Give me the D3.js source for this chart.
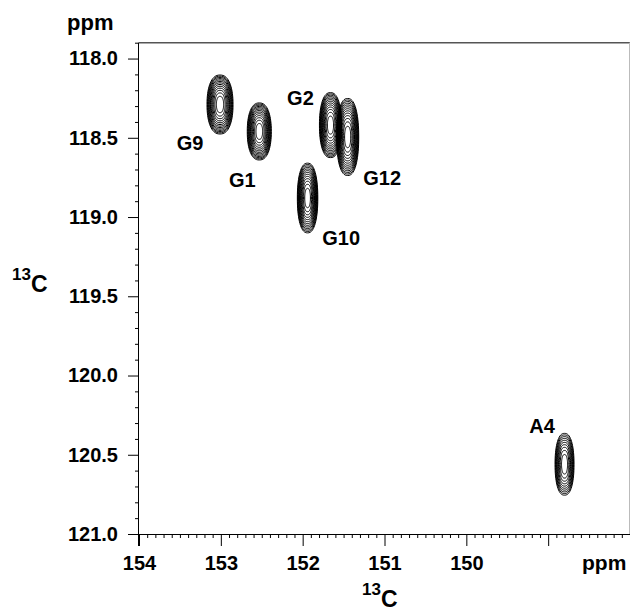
<!DOCTYPE html>
<html>
<head>
<meta charset="utf-8">
<script src="https://cdn.jsdelivr.net/npm/d3@7"></script>
<style>
  html, body { margin: 0; padding: 0; background: #fff; }
  svg { display: block; }
  text { font-family: "Liberation Sans", Arial, Helvetica, sans-serif; font-weight: bold; fill: #000; }
</style>
</head>
<body>
<svg id="chart" width="630" height="611"></svg>
<script>
// ---- data ----
const xMajorTicks = [154, 153, 152, 151, 150, 149];
const xTickLabels = ["154", "153", "152", "151", "150", ""];
const yMajorTicks = [118.0, 118.5, 119.0, 119.5, 120.0, 120.5, 121.0];
const yTickLabels = ["118.0", "118.5", "119.0", "119.5", "120.0", "120.5", "121.0"];

const peakNames  = ["G9", "G1", "G2", "G12", "G10", "A4"];
const peakX      = [153.01, 152.53, 151.66, 151.45, 151.94, 148.80];    // ppm (13C, horizontal)
const peakY      = [118.29, 118.46, 118.42, 118.495, 118.88, 120.56];   // ppm (13C, vertical)
const peakHalfX  = [0.159, 0.147, 0.135, 0.135, 0.125, 0.116];          // ppm half-width of outer contour
const peakHalfY  = [0.186, 0.180, 0.205, 0.243, 0.220, 0.195];          // ppm half-height of outer contour
const peakLevels = [13, 13, 13, 13, 13, 10];                            // number of contour levels
const labelX     = [153.54, 152.90, 152.19, 151.26, 151.76, 149.23];    // label anchor (ppm)
const labelY     = [118.577, 118.81, 118.293, 118.80, 119.177, 120.36];

// ---- layout ----
const svg = d3.select("#chart");
const x = d3.scaleLinear().domain([154, 148]).range([139, 630]);
const y = d3.scaleLinear().domain([117.9, 121.0]).range([42.7, 534]);

// frame (top / right, gray)
svg.append("line").attr("x1", x(154)).attr("x2", 630).attr("y1", y(117.9)).attr("y2", y(117.9))
  .attr("stroke", "#555").attr("stroke-width", 1.5);
svg.append("line").attr("x1", 629.5).attr("x2", 629.5).attr("y1", y(117.9)).attr("y2", y(121.0))
  .attr("stroke", "#bbb").attr("stroke-width", 1);

// minor ticks
const xMinor = d3.range(1540, 1480, -1).map(d => d / 10).filter(v => !xMajorTicks.includes(v));
const yMinor = d3.range(1179, 1211, 1).map(d => d / 10).filter(v => !yMajorTicks.some(t => Math.abs(t - v) < 1e-9));

const gx = svg.append("g").attr("transform", `translate(0,${y(121.0)})`);
gx.call(d3.axisBottom(x).tickValues(xMinor).tickSize(4).tickFormat("").tickSizeOuter(0));
gx.call(g => g.select(".domain").remove());
const gx2 = svg.append("g").attr("transform", `translate(0,${y(121.0)})`);
gx2.call(d3.axisBottom(x).tickValues(xMajorTicks).tickSize(12).tickPadding(10).tickSizeOuter(0)
  .tickFormat((d, i) => xTickLabels[i]));
gx2.selectAll("text").style("font-size", "20px");
gx2.select(".domain").attr("d", `M${x(154) - 11},0.5H630`);

const gy = svg.append("g").attr("transform", `translate(${x(154)},0)`);
gy.call(d3.axisLeft(y).tickValues(yMinor).tickSize(4).tickFormat("").tickSizeOuter(0));
gy.call(g => g.select(".domain").remove());
const gy2 = svg.append("g").attr("transform", `translate(${x(154)},0)`);
gy2.call(d3.axisLeft(y).tickValues(yMajorTicks).tickSize(11).tickPadding(10).tickSizeOuter(0)
  .tickFormat((d, i) => yTickLabels[i]));
gy2.selectAll("text").style("font-size", "20px");
gy2.select(".domain").attr("d", `M-0.5,${y(117.9)}V${y(121.0) + 12}`);
svg.selectAll(".tick line").attr("stroke", "#000");
svg.selectAll(".domain").attr("stroke", "#000");

// contours: nested levels of each peak (gaussian-like spacing r ~ sqrt(k))
const line = d3.line().curve(d3.curveLinearClosed);
const gc = svg.append("g").attr("fill", "none").attr("stroke", "#000").attr("stroke-width", 1);
peakNames.forEach((name, i) => {
  const n = peakLevels[i];
  for (let k = 1; k <= n; k++) {
    const r = Math.sqrt(k / n);
    const pts = d3.range(0, 72).map(j => {
      const t = j / 72 * 2 * Math.PI;
      const c = Math.cos(t), s = Math.sin(t);
      const cx = Math.sign(c) * Math.pow(Math.abs(c), 2 / 2.4);
      const sy = Math.sign(s) * Math.pow(Math.abs(s), 2 / 2.2);
      return [x(peakX[i] + r * peakHalfX[i] * cx), y(peakY[i] + r * peakHalfY[i] * sy)];
    });
    gc.append("path").attr("d", line(pts));
  }
});

// peak labels
svg.append("g").selectAll("text").data(peakNames).join("text")
  .attr("x", (d, i) => x(labelX[i])).attr("y", (d, i) => y(labelY[i]))
  .style("font-size", "20px").text(d => d);

// axis units / titles
svg.append("text").attr("x", 67).attr("y", 30).style("font-size", "22px").text("ppm");
svg.append("text").attr("x", 582).attr("y", 570).style("font-size", "21px").text("ppm");

const yt = svg.append("text").attr("x", 12).attr("y", 292);
yt.append("tspan").attr("dy", "-12").style("font-size", "17px").text("13");
yt.append("tspan").attr("dy", "12").style("font-size", "23px").text("C");

const xt = svg.append("text").attr("x", 362).attr("y", 607);
xt.append("tspan").attr("dy", "-12").style("font-size", "17px").text("13");
xt.append("tspan").attr("dy", "12").style("font-size", "23px").text("C");
</script>
</body>
</html>
